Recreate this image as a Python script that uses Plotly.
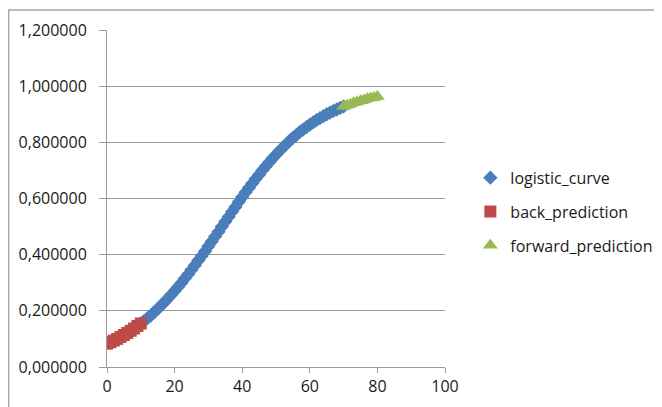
import plotly.graph_objects as go

# x positions and values
back_x = [0, 1, 2, 3, 4, 5, 6, 7, 8, 9, 10]
back_y = [0.083, 0.088, 0.094, 0.100, 0.107, 0.114, 0.121, 0.129, 0.137, 0.146, 0.155]

logistic_x = list(range(10, 71))
logistic_y = [0.155, 0.164, 0.174, 0.184, 0.195, 0.207, 0.219, 0.231, 0.244, 0.257,
              0.271, 0.285, 0.299, 0.315, 0.330, 0.346, 0.362, 0.379, 0.395, 0.412,
              0.430, 0.447, 0.465, 0.482, 0.500, 0.518, 0.535, 0.553, 0.570, 0.588,
              0.605, 0.622, 0.638, 0.654, 0.670, 0.685, 0.701, 0.715, 0.729, 0.743,
              0.756, 0.769, 0.781, 0.793, 0.805, 0.816, 0.826, 0.836, 0.845, 0.854,
              0.863, 0.871, 0.879, 0.886, 0.893, 0.900, 0.906, 0.912, 0.917, 0.923,
              0.928]

forward_x = [70, 71, 72, 73, 74, 75, 76, 77, 78, 79, 80]
forward_y = [0.928, 0.932, 0.936, 0.941, 0.944, 0.948, 0.951, 0.955, 0.958, 0.960, 0.963]

y_ticks = [0, 0.2, 0.4, 0.6, 0.8, 1.0, 1.2]
x_ticks = [0, 20, 40, 60, 80, 100]

FONT = "Open Sans"
TXT = "#1a1a1a"
GRID = "#9a9a9a"

fig = go.Figure()
fig.add_trace(go.Scatter(
    x=logistic_x, y=logistic_y, mode="markers", name="logistic_curve",
    legendgroup="a",
    marker=dict(symbol="diamond", size=11, color="#4A7EBB", line=dict(width=0)),
))
fig.add_trace(go.Scatter(
    x=back_x, y=back_y, mode="markers", name="back_prediction",
    legendgroup="b",
    marker=dict(symbol="square", size=12, color="#BE4B48", line=dict(width=0)),
))
fig.add_trace(go.Scatter(
    x=forward_x, y=forward_y, mode="markers", name="forward_prediction",
    legendgroup="c",
    marker=dict(symbol="triangle-up", size=13, color="#98B954", line=dict(width=0)),
))

fig.update_layout(
    width=654, height=399,
    margin=dict(l=99, r=217, t=22, b=40, autoexpand=False),
    paper_bgcolor="white", plot_bgcolor="white",
    separators=",.",
    font=dict(family=FONT, size=16, color=TXT),
    showlegend=True,
    legend=dict(x=1.075, xanchor="left", y=0.612, yanchor="top",
                tracegroupgap=10, font=dict(family=FONT, size=16, color=TXT),
                bgcolor="rgba(0,0,0,0)"),
    xaxis=dict(range=[0, 100], tickvals=x_ticks, showgrid=False, zeroline=False,
               showline=True, linecolor=GRID, linewidth=1,
               ticks="outside", ticklen=5, tickcolor=GRID,
               tickfont=dict(family=FONT, size=16, color=TXT)),
    yaxis=dict(range=[0, 1.2], tickvals=y_ticks, tickformat=".6f",
               showgrid=True, gridcolor=GRID, gridwidth=1, zeroline=False,
               showline=True, linecolor=GRID, linewidth=1,
               ticks="outside", ticklen=7, tickcolor=GRID, ticklabelstandoff=9,
               tickfont=dict(family=FONT, size=16, color=TXT)),
    shapes=[dict(type="rect", xref="paper", yref="paper",
                 x0=-0.291, x1=2.0, y0=-0.3, y1=1.059,
                 line=dict(color="#a6a6a6", width=1.5), layer="below")],
)

fig.write_html("out.html")
